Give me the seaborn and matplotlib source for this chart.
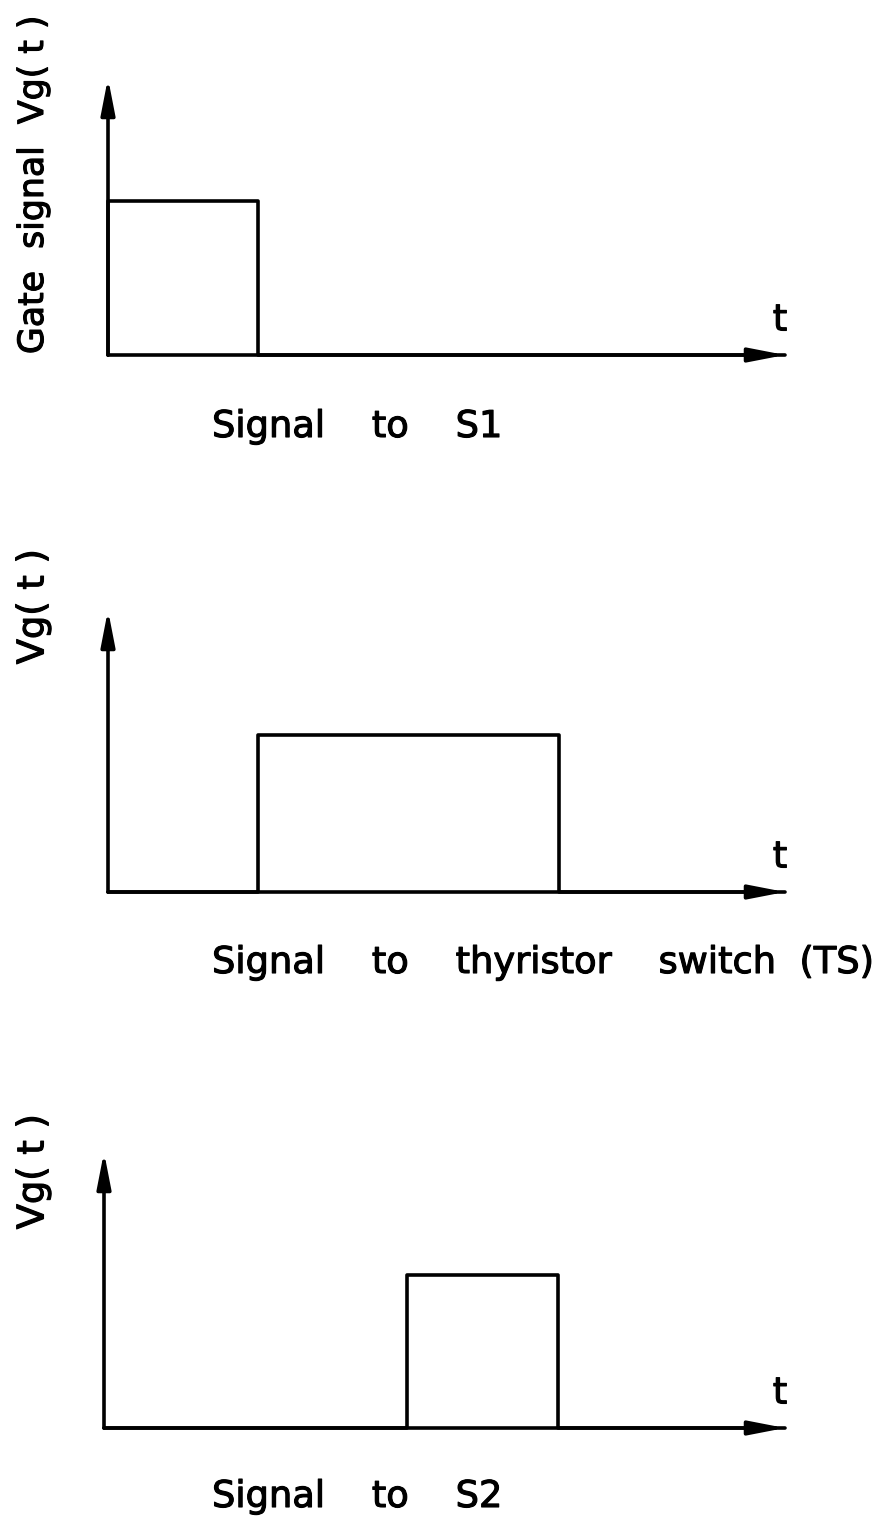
import matplotlib
matplotlib.use("Agg")
import matplotlib.pyplot as plt
import matplotlib.patheffects as pe
import numpy as np
import pandas as pd
import seaborn as sns

# Gate signal data (time in pulse-width units, amplitude normalised)
signals = ["S1", "TS", "S2"]
s1_t = [0, 0, 1, 4.5]
s1_v = [0, 1, 0, 0]
ts_t = [0, 1, 3, 4.5]
ts_v = [0, 1, 0, 0]
s2_t = [0, 2, 3, 4.5]
s2_v = [0, 1, 0, 0]

y_labels = ["Gate  signal  Vg( t )", "Vg( t )", "Vg( t )"]
captions = ["Signal    to    S1",
            "Signal    to    thyristor    switch  (TS)",
            "Signal    to    S2"]

df = pd.concat([
    pd.DataFrame({"signal": "S1", "t": s1_t, "v": s1_v}),
    pd.DataFrame({"signal": "TS", "t": ts_t, "v": ts_v}),
    pd.DataFrame({"signal": "S2", "t": s2_t, "v": s2_v}),
])

sns.set_theme(style="white")
plt.rcParams['font.family'] = ['DejaVu Sans']
plt.rcParams['text.color'] = 'black'

W, H = 888, 1517
fig = plt.figure(figsize=(W / 100, H / 100), dpi=100)
fig.patch.set_facecolor("white")

def fx(px):
    return px / W

def fy(py):
    return 1 - py / H

# pixel layout of each panel: left, right, baseline, arrow top, label y, caption baseline
layout = [
    (108, 785, 355, 78, 185, 437),
    (108, 785, 892, 610, 607, 973),
    (104, 785, 1428, 1152, 1172, 1507),
]

fs = 26.5
heavy = [pe.withStroke(linewidth=0.8, foreground="black")]
for i, sig in enumerate(signals):
    left, right, base, top, ly, cy = layout[i]
    ax = fig.add_axes([fx(left), fy(base), (right - left) / W, (base - top) / H])
    sub = df[df["signal"] == sig]
    sns.lineplot(data=sub, x="t", y="v", ax=ax, color="black", lw=2.6,
                 estimator=None, sort=False, drawstyle="steps-post",
                 clip_on=False, legend=False)
    ax.set_xlim(0, 4.5)
    ax.set_ylim(0, 1.8)
    ax.set_axis_off()

    # axes drawn as arrows
    arrow = dict(arrowstyle="-|>,head_length=1.8,head_width=0.35",
                 color="black", lw=2.6, shrinkA=0, shrinkB=0)
    ax.annotate("", xy=(1, 0), xytext=(0, 0), xycoords="axes fraction",
                arrowprops=arrow)
    ax.annotate("", xy=(0, 1), xytext=(0, 0), xycoords="axes fraction",
                arrowprops=arrow)
    ax.annotate("t", xy=(1, 0), xycoords="axes fraction",
                xytext=(-5, 35), textcoords="offset pixels",
                ha="center", va="center", fontsize=fs, path_effects=heavy)

    label_fs = 25 if i == 0 else fs
    fig.text(fx(33), fy(ly), y_labels[i], rotation=90, ha="center",
             va="center", fontsize=label_fs, path_effects=heavy)
    fig.text(fx(212), fy(cy), captions[i], ha="left", va="baseline",
             fontsize=fs, path_effects=heavy)

plt.savefig("out.png", dpi=100, facecolor="white")
plt.close()
